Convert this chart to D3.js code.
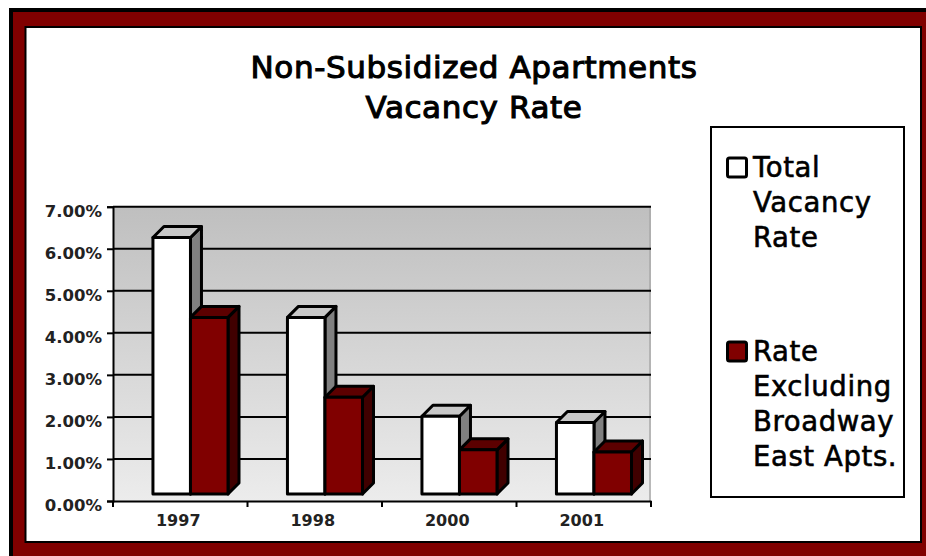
<!DOCTYPE html>
<html>
<head>
<meta charset="utf-8">
<script src="https://cdn.jsdelivr.net/npm/d3@7"></script>
<style>
  html, body { margin: 0; padding: 0; background: #fff; overflow: hidden; }
</style>
</head>
<body>
<div id="app"></div>
<script>
// data
const years = ["1997", "1998", "2000", "2001"];
const seriesNames = ["Total Vacancy Rate", "Rate Excluding Broadway East Apts."];
const totalRate = [6.1, 4.2, 1.85, 1.7];
const exclRate = [4.2, 2.3, 1.05, 1.0];
const yTicks = [0, 1, 2, 3, 4, 5, 6, 7];
const titleLines = ["Non-Subsidized Apartments", "Vacancy Rate"];
const legendLines = [["Total", "Vacancy", "Rate"], ["Rate", "Excluding", "Broadway", "East Apts."]];

// sizing
const width = 926;
const height = 556;
const plot = {left: 113, right: 651, top: 206.7, bottom: 501};
const depth = {dx: 11, dy: -11};
const floorLift = 7;
const font = "'DejaVu Sans', sans-serif";

// colours per series: front, top, side
const faces = [
  {front: "#ffffff", top: "#c8c8c8", side: "#808080"},
  {front: "#800000", top: "#5c0000", side: "#400000"}
];

let svg = d3.select("#app")
  .append("svg")
    .attr("width", width)
    .attr("height", height)
    .style("font-family", font);

// frame
svg.append("rect")
  .attr("x", 11).attr("y", 10)
  .attr("width", 940).attr("height", 580)
  .attr("fill", "#800000")
  .attr("stroke", "#000").attr("stroke-width", 4);

svg.append("rect")
  .attr("x", 25.5).attr("y", 27)
  .attr("width", 895.5).attr("height", 515)
  .attr("fill", "#fff")
  .attr("stroke", "#000").attr("stroke-width", 2);

// title
svg.append("g")
  .selectAll("text")
  .data(titleLines)
  .enter().append("text")
    .attr("x", 474)
    .attr("y", (d, i) => 78 + i * 40)
    .attr("text-anchor", "middle")
    .style("font-family", font)
    .style("font-size", "31px")
    .style("letter-spacing", "0.6px")
    .style("fill", "#000")
    .style("stroke", "#000")
    .style("stroke-width", "1.1px")
    .text(d => d);

// back wall gradient
const defs = svg.append("defs");
const grad = defs.append("linearGradient")
  .attr("id", "wall")
  .attr("x1", 0).attr("y1", 0).attr("x2", 0).attr("y2", 1);
grad.append("stop").attr("offset", "0%").attr("stop-color", "#bfbfbf");
grad.append("stop").attr("offset", "100%").attr("stop-color", "#ececec");

svg.append("rect")
  .attr("x", plot.left).attr("y", plot.top)
  .attr("width", plot.right - plot.left)
  .attr("height", plot.bottom - plot.top)
  .attr("fill", "url(#wall)");

svg.append("line")
  .attr("x1", plot.right - 1).attr("x2", plot.right - 1)
  .attr("y1", plot.top).attr("y2", plot.bottom)
  .attr("stroke", "#a8a8a8").attr("stroke-width", 1.5);

// scales
const x = d3.scaleBand()
  .domain(years)
  .range([plot.left, plot.right])
  .padding(0);

const xs = d3.scaleBand()
  .domain([0, 1])
  .range([x.bandwidth() * 0.297, x.bandwidth() * 0.855])
  .padding(0);

const y = d3.scaleLinear()
  .domain([0, 7])
  .range([plot.bottom, plot.top]);

// gridlines
svg.append("g")
  .selectAll("line")
  .data(yTicks.slice(1))
  .enter().append("line")
    .attr("x1", plot.left).attr("x2", plot.right)
    .attr("y1", d => y(d)).attr("y2", d => y(d))
    .attr("stroke", "#000").attr("stroke-width", 2);

// y axis
const yAxis = svg.append("g")
  .attr("transform", "translate(" + plot.left + ",0)")
  .call(d3.axisLeft(y).tickValues(yTicks).tickSize(6).tickPadding(5)
    .tickFormat(d => d.toFixed(2) + "%"));
yAxis.attr("font-family", null).attr("font-size", null);
yAxis.select(".domain").attr("stroke", "#000").attr("stroke-width", 2);
yAxis.selectAll(".tick line").attr("stroke", "#000").attr("stroke-width", 2);
yAxis.selectAll(".tick text")
  .attr("dy", "0.72em")
  .attr("y", -2)
  .style("font-family", font)
  .style("font-size", "16.5px")
  .style("font-weight", "bold")
  .style("fill", "#222");

// bars
const rows = years.map((yr, i) => ({year: yr, values: [totalRate[i], exclRate[i]]}));

const groups = svg.append("g")
  .selectAll("g")
  .data(rows)
  .enter().append("g")
    .attr("transform", d => "translate(" + x(d.year) + ",0)");

groups.each(function(row) {
  const g = d3.select(this);
  row.values.forEach((v, s) => {
    const xl = xs(s);
    const xr = xs(s) + xs.bandwidth();
    const yt = y(v) - floorLift;
    const yb = y(0) - floorLift;
    const f = faces[s];
    const bar = g.append("g")
      .attr("stroke", "#000")
      .attr("stroke-width", 3)
      .attr("stroke-linejoin", "round");
    // side face
    bar.append("path")
      .attr("d", d3.line()([[xr, yt], [xr + depth.dx, yt + depth.dy], [xr + depth.dx, yb + depth.dy], [xr, yb]]) + "Z")
      .attr("fill", f.side);
    // top face
    bar.append("path")
      .attr("d", d3.line()([[xl, yt], [xl + depth.dx, yt + depth.dy], [xr + depth.dx, yt + depth.dy], [xr, yt]]) + "Z")
      .attr("fill", f.top);
    // front face
    bar.append("rect")
      .attr("x", xl).attr("y", yt)
      .attr("width", xr - xl).attr("height", yb - yt)
      .attr("fill", f.front);
  });
});

// x axis
const xAxis = svg.append("g")
  .attr("transform", "translate(0," + plot.bottom + ")")
  .call(d3.axisBottom(x).tickSize(0).tickPadding(14));
xAxis.attr("font-family", null).attr("font-size", null);
xAxis.select(".domain").attr("stroke", "#000").attr("stroke-width", 2);
xAxis.selectAll(".tick text")
  .attr("dx", -2)
  .style("font-family", font)
  .style("font-size", "16px")
  .style("font-weight", "bold")
  .style("fill", "#222");

// x ticks at band edges
xAxis.append("g")
  .selectAll("line")
  .data(years.map(d => x(d)).concat([plot.right]))
  .enter().append("line")
    .attr("x1", d => d).attr("x2", d => d)
    .attr("y1", 0).attr("y2", 6)
    .attr("stroke", "#000").attr("stroke-width", 2);

// legend
const legend = svg.append("g");
legend.append("rect")
  .attr("x", 711).attr("y", 127)
  .attr("width", 193).attr("height", 370)
  .attr("fill", "#fff")
  .attr("stroke", "#000").attr("stroke-width", 2);

const legendTop = [176.5, 360.5];
const entries = legend.selectAll("g.entry")
  .data(seriesNames)
  .enter().append("g")
    .attr("class", "entry");

entries.append("rect")
  .attr("x", 727.5)
  .attr("y", (d, i) => legendTop[i] - 18.5)
  .attr("width", 19).attr("height", 19)
  .attr("rx", 2)
  .attr("fill", (d, i) => faces[i].front)
  .attr("stroke", "#000").attr("stroke-width", 3);

entries.each(function(d, i) {
  d3.select(this).selectAll("text")
    .data(legendLines[i])
    .enter().append("text")
      .attr("x", 753)
      .attr("y", (t, j) => legendTop[i] + j * 35)
      .style("font-family", font)
      .style("font-size", "27.5px")
      .style("letter-spacing", "0.6px")
      .style("fill", "#000")
      .style("stroke", "#000")
      .style("stroke-width", "0.6px")
      .text(t => t);
});
</script>
</body>
</html>
